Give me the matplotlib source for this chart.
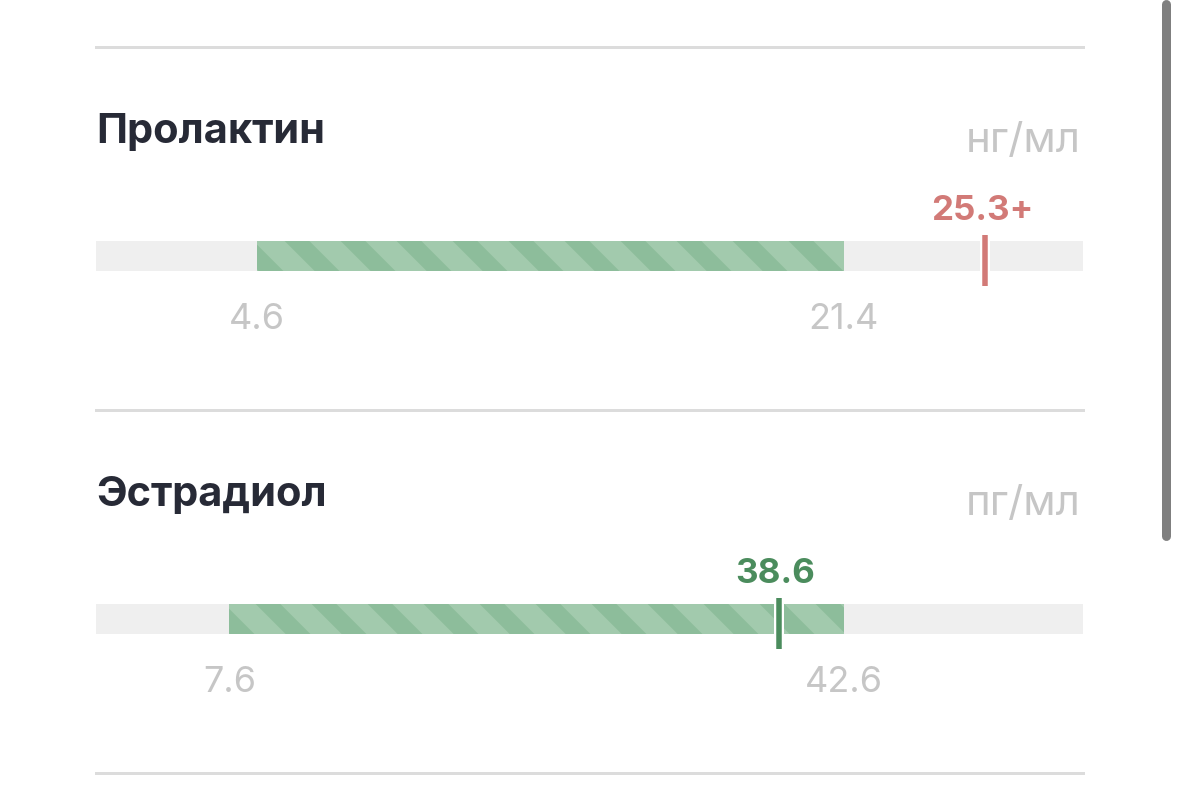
import matplotlib.pyplot as plt
import matplotlib.transforms as mtransforms
from matplotlib.lines import Line2D

# analytes
names = ["Пролактин", "Эстрадиол"]
units = ["нг/мл", "пг/мл"]
ref_low = [4.6, 7.6]
ref_high = [21.4, 42.6]
results = [25.3, 38.6]
result_labels = ["25.3+", "38.6"]
in_range = [False, True]

DPI = 168
W, H = 1179, 800
PANEL = 363  # px height of one block

plt.rcParams["font.family"] = ["Inter", "DejaVu Sans"]
plt.rcParams["hatch.linewidth"] = 7.5

track_col = "#efefef"
band_col = "#a2caad"
stripe_col = "#8dbd9b"
sep_col = "#dcdcdc"
label_grey = "#c6c6c6"
title_col = "#272a36"
red = "#d27a77"
green = "#4b8c5d"


def pt(px):
    return px * 72 / DPI


fig = plt.figure(figsize=(W / DPI, H / DPI), dpi=DPI)
fig.patch.set_facecolor("white")

left, right = 96 / W, 1083 / W
for i, name in enumerate(names):
    top_px = 47 + PANEL * i
    ax = fig.add_axes([left, 1 - (top_px + PANEL) / H, right - left, PANEL / H])
    ax.set_xlim(0, ref_high[i] * 1.32)
    ax.set_ylim(PANEL, 0)
    ax.axis("off")

    # separators
    ax.axhline(0, color=sep_col, lw=pt(3), clip_on=False)
    if i == len(names) - 1:
        ax.axhline(PANEL, color=sep_col, lw=pt(3), clip_on=False)

    yax = ax.get_yaxis_transform()
    ax.text(0, 96, name, transform=yax, fontsize=pt(41.5), fontweight="bold",
            color=title_col, ha="left", va="baseline")
    ax.text(0.9975, 105, units[i], transform=yax, fontsize=pt(42),
            color=label_grey, ha="right", va="baseline")

    # track + reference band
    ax.barh(209, ref_high[i] * 1.32, height=30, left=0, color=track_col, lw=0)
    ax.barh(209, ref_high[i] - ref_low[i], height=30, left=ref_low[i],
            facecolor=band_col, edgecolor=stripe_col, hatch="\\", lw=0)

    for v in (ref_low[i], ref_high[i]):
        ax.text(v, 282, f"{v:g}", fontsize=pt(36), color=label_grey,
                ha="center", va="baseline")

    col = green if in_range[i] else red
    shift = mtransforms.ScaledTranslation(5 / DPI, 0, fig.dpi_scale_trans)
    ax.plot([results[i]] * 2, [188, 239], color="white", lw=pt(10),
            solid_capstyle="butt", transform=ax.transData + shift, clip_on=False)
    ax.plot([results[i]] * 2, [188, 239], color=col, lw=pt(5.5),
            solid_capstyle="butt", transform=ax.transData + shift, clip_on=False)
    shift2 = mtransforms.ScaledTranslation(2 / DPI, 0, fig.dpi_scale_trans)
    ax.text(results[i], 173, result_labels[i], fontsize=pt(35), fontweight="bold",
            color=col, ha="center", va="baseline", transform=ax.transData + shift2)

# scrollbar
fig.add_artist(Line2D([1165.5 / W, 1165.5 / W], [1 - 4 / H, 1 - 536 / H],
                      color="#7f7f7f", lw=pt(9), solid_capstyle="round"))

fig.savefig("out.png", dpi=DPI, facecolor="white")
